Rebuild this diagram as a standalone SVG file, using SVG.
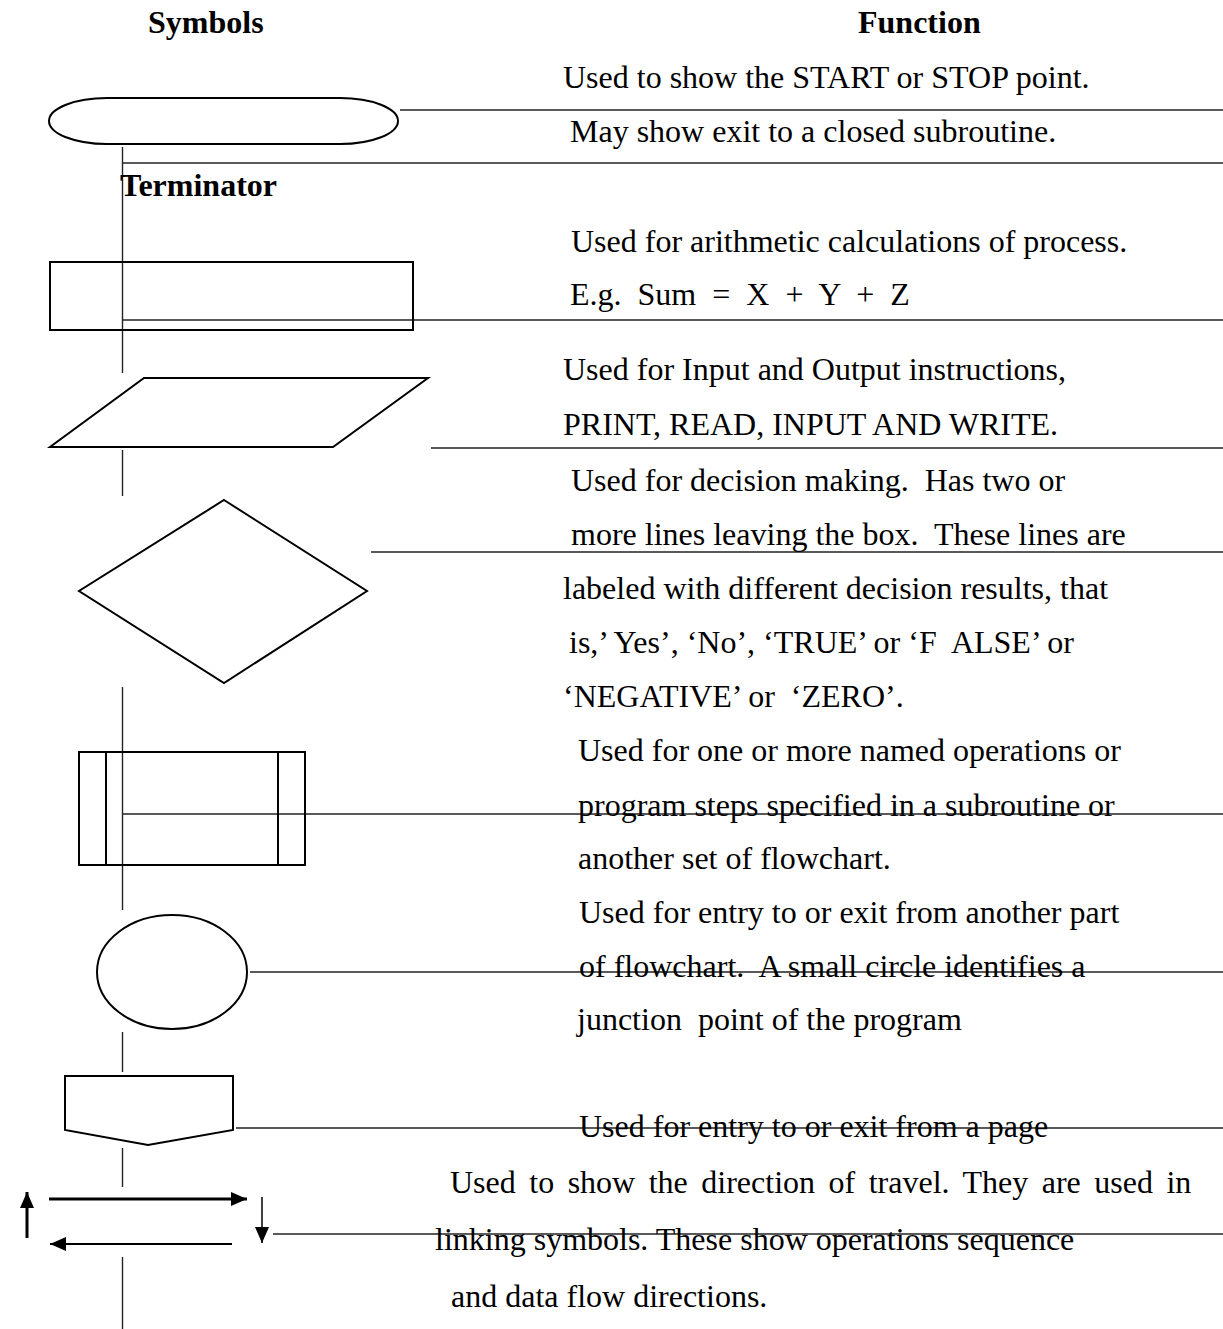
<svg xmlns="http://www.w3.org/2000/svg" width="1223" height="1329" viewBox="0 0 1223 1329" xml:space="preserve">
  <style>
    .hdr { font-family: "Liberation Serif", "Times New Roman", serif; font-size: 32px; font-weight: bold; fill: #000; }
    .txt { font-family: "Liberation Serif", "Times New Roman", serif; font-size: 32px; fill: #000; white-space: pre; }
    .shape { fill: none; stroke: #000; stroke-width: 2; }
    .rule { stroke: #222; stroke-width: 1.4; fill: none; }
    .arrow { stroke: #000; fill: none; }
  </style>
  <defs>
    <marker id="head" viewBox="0 0 16 14" refX="16" refY="7" markerWidth="16" markerHeight="14" markerUnits="userSpaceOnUse" orient="auto">
      <path d="M0,0 L16,7 L0,14 Z" fill="#000"/>
    </marker>
  </defs>

  <rect width="1223" height="1329" fill="#fff"/>

  <!-- column headings -->
  <text class="hdr" x="148" y="33">Symbols</text>
  <text class="hdr" x="858" y="33">Function</text>

  <!-- rules and leader lines -->
  <g id="connectors">
    <line class="rule" x1="400" y1="110" x2="1223" y2="110"/>
    <line class="rule" x1="122" y1="163" x2="1223" y2="163"/>
    <line class="rule" x1="122" y1="320" x2="1223" y2="320"/>
    <line class="rule" x1="431" y1="448" x2="1223" y2="448"/>
    <line class="rule" x1="371" y1="552" x2="1223" y2="552"/>
    <line class="rule" x1="122" y1="814" x2="1223" y2="814"/>
    <line class="rule" x1="250" y1="972" x2="1223" y2="972"/>
    <line class="rule" x1="236" y1="1128" x2="1223" y2="1128"/>
    <line class="rule" x1="273" y1="1234" x2="1223" y2="1234"/>
    <!-- vertical spine -->
    <line class="rule" x1="122.5" y1="147" x2="122.5" y2="373"/>
    <line class="rule" x1="122.5" y1="450" x2="122.5" y2="496"/>
    <line class="rule" x1="122.5" y1="687" x2="122.5" y2="910"/>
    <line class="rule" x1="122.5" y1="1032" x2="122.5" y2="1072"/>
    <line class="rule" x1="122.5" y1="1148" x2="122.5" y2="1187"/>
    <line class="rule" x1="122.5" y1="1257" x2="122.5" y2="1329"/>
  </g>

  <!-- terminator -->
  <g id="terminator">
    <rect class="shape" x="49" y="98" width="349" height="46" rx="58" ry="23"/>
    <text class="hdr" x="120" y="196">Terminator</text>
    <text class="txt" x="563" y="88">Used to show the START or STOP point.</text>
    <text class="txt" x="570" y="142">May show exit to a closed subroutine.</text>
  </g>

  <!-- process -->
  <g id="process">
    <rect class="shape" x="50" y="262" width="363" height="68" stroke-width="2.5"/>
    <text class="txt" x="571" y="252">Used for arithmetic calculations of process.</text>
    <text class="txt" x="570" y="305">E.g.  Sum  =  X  +  Y  +  Z</text>
  </g>

  <!-- input / output -->
  <g id="input-output">
    <polygon class="shape" points="144,378 428,378 333,447 50,447"/>
    <text class="txt" x="563" y="380">Used for Input and Output instructions,</text>
    <text class="txt" x="563" y="435">PRINT, READ, INPUT AND WRITE.</text>
  </g>

  <!-- decision -->
  <g id="decision">
    <polygon class="shape" points="224,500 367,591 224,683 79,591"/>
    <text class="txt" x="571" y="491">Used for decision making.  Has two or</text>
    <text class="txt" x="571" y="545">more lines leaving the box.  These lines are</text>
    <text class="txt" x="563" y="599">labeled with different decision results, that</text>
    <text class="txt" x="569" y="653">is,’ Yes’, ‘No’, ‘TRUE’ or ‘F  ALSE’ or</text>
    <text class="txt" x="563" y="707">‘NEGATIVE’ or  ‘ZERO’.</text>
  </g>

  <!-- predefined process -->
  <g id="predefined-process">
    <rect class="shape" x="79" y="752" width="226" height="113"/>
    <line class="shape" x1="106" y1="752" x2="106" y2="865"/>
    <line class="shape" x1="278" y1="752" x2="278" y2="865"/>
    <text class="txt" x="578" y="761">Used for one or more named operations or</text>
    <text class="txt" x="578" y="816">program steps specified in a subroutine or</text>
    <text class="txt" x="578" y="869">another set of flowchart.</text>
  </g>

  <!-- on-page connector -->
  <g id="connector-circle">
    <ellipse class="shape" cx="172" cy="972" rx="75" ry="57"/>
    <text class="txt" x="579" y="923">Used for entry to or exit from another part</text>
    <text class="txt" x="579" y="977">of flowchart.  A small circle identifies a</text>
    <text class="txt" x="577" y="1030">junction  point of the program</text>
  </g>

  <!-- off-page connector -->
  <g id="offpage-connector">
    <path class="shape" d="M65,1076 H233 V1130 L148,1145 L65,1130 Z"/>
    <text class="txt" x="579" y="1137">Used for entry to or exit from a page</text>
  </g>

  <!-- flow lines -->
  <g id="flow-lines">
    <line class="arrow" x1="49" y1="1199" x2="247" y2="1199" stroke-width="3" marker-end="url(#head)"/>
    <line class="arrow" x1="232" y1="1244" x2="50" y2="1244" stroke-width="2" marker-end="url(#head)"/>
    <line class="arrow" x1="27" y1="1238" x2="27" y2="1192" stroke-width="3" marker-end="url(#head)"/>
    <line class="arrow" x1="262" y1="1197" x2="262" y2="1243" stroke-width="1.5" marker-end="url(#head)"/>
    <text class="txt" x="450" y="1193" word-spacing="5.5">Used to show the direction of travel. They are used in</text>
    <text class="txt" x="435" y="1250">linking symbols. These show operations sequence</text>
    <text class="txt" x="451" y="1307">and data flow directions.</text>
  </g>
</svg>
